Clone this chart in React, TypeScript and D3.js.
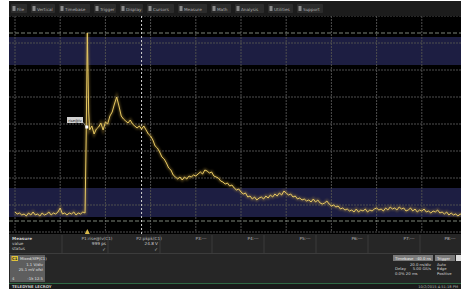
import React from 'react';
import * as d3 from 'd3';

// ---- data ----
const SAMPLE_NS = 1; // sample interval in ns
const traceMv = [
  -880, -900, -890, -910, -900, -920, -890, -910, -880, -910,
  -900, -920, -890, -910, -900, -880, -910, -890, -900, -880,
  -840, -900, -890, -910, -890, -900, -880, -910, -890, -900,
  -880, -890, 910, -60, -20, -100, -50, -30, 10, -60,
  20, 0, 80, 120, 200, 270, 180, 80, 50, 30,
  10, 40, 0, -20, -40, -20, -50, -20, -60, -100,
  -120, -160, -220, -240, -280, -330, -350, -390, -440, -460,
  -510, -530, -550, -530, -560, -530, -550, -520, -530, -510,
  -520, -500, -480, -500, -460, -470, -490, -480, -520, -530,
  -540, -570, -580, -600, -590, -620, -610, -640, -660, -650,
  -680, -700, -690, -730, -720, -750, -730, -760, -740, -730,
  -750, -720, -740, -710, -730, -700, -720, -690, -710, -670,
  -690, -710, -700, -730, -720, -750, -740, -760, -750, -770,
  -760, -780, -750, -780, -760, -790, -800, -790, -770, -800,
  -820, -810, -830, -820, -850, -840, -860, -850, -870, -860,
  -880, -850, -880, -860, -870, -850, -880, -860, -870, -850,
  -840, -860, -850, -870, -840, -860, -830, -850, -840, -860,
  -830, -850, -840, -870, -860, -840, -870, -850, -880, -860,
  -870, -850, -880, -870, -890, -870, -880, -860, -890, -880,
  -900, -880, -910, -890, -910, -900, -920, -900, -920,
];
const edgeTimesNs = [31.5, 32.6];
const edgeMv = [-120, 120];

const timeDomainNs = [0, 200];
const voltDomainMv = [-1080, 1080];
const timePerDivNs = 20;
const voltPerDivMv = 270;

const upperBandMv = [590, 870];
const lowerBandMv = [-930, -640];
const refLinesMv = [910, -970];
const cursorTimeNs = 56;
const triggerTimeNs = 32;

const menuItems = ['File', 'Vertical', 'Timebase', 'Trigger', 'Display', 'Cursors', 'Measure', 'Math', 'Analysis', 'Utilities', 'Support'];
const measureRowLabels = ['Measure', 'value', 'status'];
const measureNames = ['P1:rise@lv(C1)', 'P2:pkpk(C1)', 'P3:---', 'P4:---', 'P5:---', 'P6:---', 'P7:---', 'P8:---'];
const measureValues = ['999 ps', '24.8 V', '', '', '', '', '', ''];
const measureOk = [true, true, false, false, false, false, false, false];
const channelLines = ['1.1 V/div', '25.1 mV ofst', ''];
const timebaseLines = ['-40.0 ns', '20.0 ns/div', '5.00 GS/s'];
const triggerLines = ['Auto', 'Edge', 'Positive'];

const FONT = 'DejaVu Sans, Roboto, sans-serif';

export default function App() {
  const W = 461, H = 292;
  const x = d3.scaleLinear().domain(timeDomainNs).range([15, 467]);
  const y = d3.scaleLinear().domain(voltDomainMv).range([232, 16]);

  const pts: [number, number][] = traceMv.map((v, i) => [i * SAMPLE_NS, v]);
  edgeTimesNs.forEach((t, i) => pts.push([t, edgeMv[i]]));
  pts.sort((a, b) => a[0] - b[0]);
  const line = d3.line<[number, number]>().x(d => x(d[0])).y(d => y(d[1]));
  const path = line(pts) || '';

  const xTicks = d3.range(timeDomainNs[0], timeDomainNs[1] + 1, timePerDivNs);
  const yTicks = d3.range(voltDomainMv[0], voltDomainMv[1] + 1, voltPerDivMv);

  // menu layout
  const menuWidths = [16, 24, 31, 22, 23, 27, 29, 20, 29, 25, 26];
  let mx = 11;
  const menuPos = menuItems.map((m, i) => { const p = mx; mx += menuWidths[i] + 4; return p; });

  const colX = (i: number) => 97 + i * 52;

  return (
    <svg width={W} height={H} style={{ position: 'absolute', left: 0, top: 0 }} fontFamily={FONT}>
      <defs>
        <clipPath id="gridClip"><rect x={9} y={16} width={452} height={218} /></clipPath>
        <filter id="glow" x="-5%" y="-5%" width="110%" height="110%">
          <feGaussianBlur stdDeviation="0.8" />
        </filter>
      </defs>
      <rect x={0} y={0} width={W} height={H} fill="#ffffff" />
      {/* screen */}
      <rect x={9} y={1} width={452} height={288} fill="#0a0a0a" />
      {/* menu bar */}
      <rect x={9} y={1} width={452} height={15} fill="#1c1c1c" />
      {menuItems.map((m, i) => (
        <g key={m}>
          <rect x={menuPos[i]} y={4} width={menuWidths[i]} height={9} fill="#2c2c2c" rx={1} />
          <rect x={menuPos[i] + 1.5} y={6} width={3} height={5} fill="#8a8a8a" />
          <text x={menuPos[i] + 6} y={10.5} fontSize={4.2} fill="#b0b0b0">{m}</text>
        </g>
      ))}
      {/* grid area */}
      <rect x={9} y={16} width={452} height={218} fill="#000000" />
      <g clipPath="url(#gridClip)">
        <rect x={9} y={y(upperBandMv[1])} width={452} height={y(upperBandMv[0]) - y(upperBandMv[1])} fill="#1d1e42" />
        <rect x={9} y={y(lowerBandMv[1])} width={452} height={y(lowerBandMv[0]) - y(lowerBandMv[1])} fill="#1d1e42" />
        {xTicks.map(t => (
          <line key={'vx' + t} x1={x(t)} x2={x(t)} y1={16} y2={232} stroke="#4e4e4e" strokeWidth={1} strokeDasharray="2,1" />
        ))}
        {yTicks.map(v => (
          <line key={'hy' + v} x1={9} x2={461} y1={y(v)} y2={y(v)} stroke="#4e4e4e" strokeWidth={1} strokeDasharray="2,1" />
        ))}
        {refLinesMv.map(v => (
          <line key={'ref' + v} x1={9} x2={461} y1={y(v)} y2={y(v)} stroke="#7c8478" strokeWidth={1} strokeDasharray="4,2" />
        ))}
        <line x1={x(cursorTimeNs)} x2={x(cursorTimeNs)} y1={16} y2={234} stroke="#d0d0d0" strokeWidth={1} strokeDasharray="2,2" />
        <path d={path} fill="none" stroke="#b8953a" strokeWidth={3} opacity={0.4} filter="url(#glow)" />
        <path d={path} fill="none" stroke="#e6c862" strokeWidth={1} />
        {/* annotation label */}
        <line x1={82} y1={121} x2={x(triggerTimeNs) - 1} y2={y(-30)} stroke="#bbbbbb" strokeWidth={0.6} />
        <rect x={67} y={117} width={16} height={6} fill="#d0d0d0" />
        <text x={75} y={121.7} fontSize={3.6} fill="#222" textAnchor="middle">rise@lv</text>
        <rect x={x(triggerTimeNs) - 2} y={y(-30) - 1.5} width={3} height={3} fill="#ffffff" />
        {/* trigger marker */}
        <path d={`M${x(triggerTimeNs) - 2.5},234 L${x(triggerTimeNs) + 2.5},234 L${x(triggerTimeNs)},229 Z`} fill="#d9b84a" />
      </g>
      {/* bottom panel */}
      <rect x={9} y={234} width={452} height={49} fill="#262626" />
      <line x1={9} x2={461} y1={253.5} y2={253.5} stroke="#3c3c3c" strokeWidth={1} />
      {measureRowLabels.map((l, i) => (
        <text key={l} x={12} y={240 + i * 5} fontSize={4.2} fill="#c8c8c8" fontWeight={i === 0 ? 'bold' : 'normal'}>{l}</text>
      ))}
      <line x1={62} x2={62} y1={235} y2={253} stroke="#3a3a3a" />
      {measureNames.map((n, i) => (
        <g key={n}>
          <line x1={colX(i) + 11} x2={colX(i) + 11} y1={235} y2={253} stroke="#3a3a3a" />
          <text x={Math.min(colX(i), 450)} y={240} fontSize={4.2} fill="#bdbdbd" textAnchor="middle">{n}</text>
          <text x={colX(i) + 9} y={245} fontSize={4.2} fill="#d0d0d0" textAnchor="end">{measureValues[i]}</text>
          {measureOk[i] && (
            <text x={colX(i) + 9} y={251} fontSize={4.5} fill="#d0d0d0" textAnchor="end">✓</text>
          )}
        </g>
      ))}
      {/* channel descriptor */}
      <rect x={10} y={255} width={35} height={27} fill="#5e5e5e" />
      <rect x={11.5} y={256} width={6.5} height={5} fill="#e0c23a" />
      <text x={14.7} y={260} fontSize={3.8} fill="#222" textAnchor="middle" fontWeight="bold">C1</text>
      <text x={20} y={260} fontSize={3.8} fill="#e6e6e6">Mixed/XfP(C1)</text>
      {channelLines.map((l, i) => (
        <text key={'c' + i} x={43} y={266 + i * 4.5} fontSize={3.8} fill="#e0e0e0" textAnchor="end">{l}</text>
      ))}
      <text x={12} y={280} fontSize={3.8} fill="#e0e0e0">4</text>
      <text x={43} y={280} fontSize={3.8} fill="#e0e0e0" textAnchor="end">-1k 12.5</text>
      {/* timebase / trigger */}
      <rect x={393} y={255} width={40} height={6} fill="#7a7a7a" />
      <text x={395} y={259.5} fontSize={3.8} fill="#f0f0f0">Timebase</text>
      <text x={431} y={259.5} fontSize={3.8} fill="#f0f0f0" textAnchor="end">{timebaseLines[0]}</text>
      <rect x={435} y={255} width={20} height={6} fill="#7a7a7a" />
      <text x={437} y={259.5} fontSize={3.8} fill="#f0f0f0">Trigger</text>
      <rect x={456} y={255} width={5} height={6} fill="#dcdcdc" />
      {timebaseLines.slice(1).map((l, i) => (
        <text key={'tb' + i} x={431} y={265.5 + i * 4.5} fontSize={3.8} fill="#d8d8d8" textAnchor="end">{l}</text>
      ))}
      <text x={395} y={270} fontSize={3.8} fill="#d8d8d8">Delay</text>
      <text x={395} y={274.5} fontSize={3.8} fill="#d8d8d8">0.0% 20 ms</text>
      {triggerLines.map((l, i) => (
        <text key={'tr' + i} x={437} y={265.5 + i * 4.5} fontSize={3.8} fill="#d8d8d8">{l}</text>
      ))}
      {/* status strip */}
      <rect x={9} y={283} width={452} height={6} fill="#1b1b1b" />
      <line x1={9} x2={461} y1={283.5} y2={283.5} stroke="#2f6a45" strokeWidth={1} />
      <text x={12} y={288} fontSize={3.8} fill="#cfcfcf" fontWeight="bold">TELEDYNE LECROY</text>
      <text x={458} y={288} fontSize={3.6} fill="#bdbdbd" textAnchor="end">10/2/2015 4:51:18 PM</text>
    </svg>
  );
}
